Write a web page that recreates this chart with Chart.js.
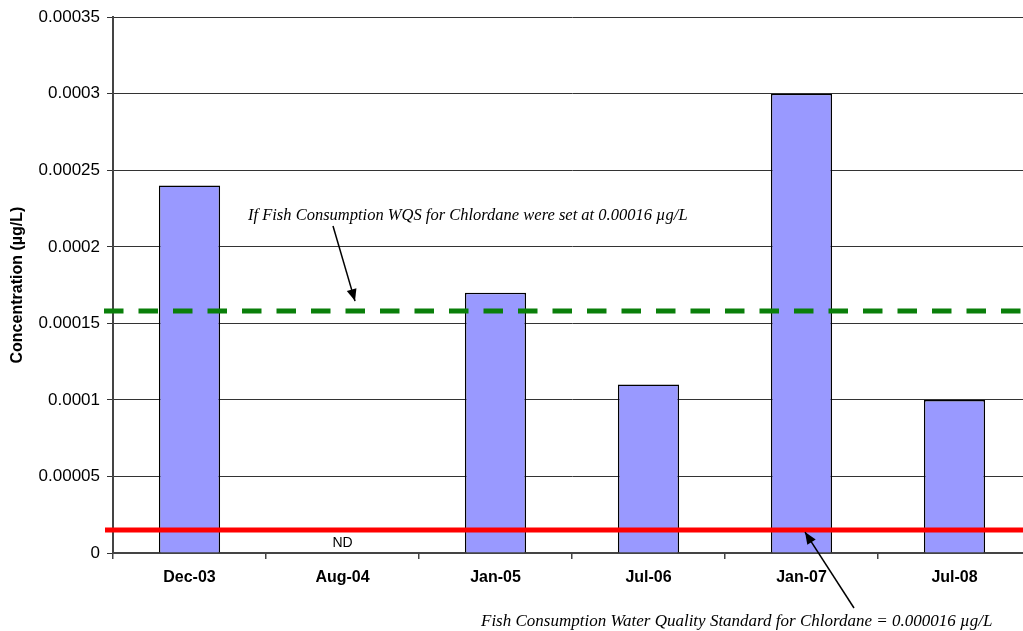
<!DOCTYPE html>
<html>
<head>
<meta charset="utf-8">
<script src="https://cdn.jsdelivr.net/npm/chart.js@4/dist/chart.umd.min.js"></script>
<style>
html,body{margin:0;padding:0;background:#fff;overflow:hidden;}
#wrap{width:1040px;height:631px;}
</style>
</head>
<body>
<div id="wrap"><canvas id="c" width="1040" height="631"></canvas></div>
<script>
const categories = ['Dec-03','Aug-04','Jan-05','Jul-06','Jan-07','Jul-08'];
const concentrations = [0.00024, 0, 0.00017, 0.00011, 0.0003, 0.0001];
const tickValues = [0, 0.00005, 0.0001, 0.00015, 0.0002, 0.00025, 0.0003, 0.00035];
const tickLabels = ['0','0.00005','0.0001','0.00015','0.0002','0.00025','0.0003','0.00035'];
const standardValue = 0.000015;
const hypotheticalValue = 0.000158;
const standardText = 'Fish Consumption Water Quality Standard for Chlordane = 0.000016 \u00b5g/L';
const hypotheticalText = 'If Fish Consumption WQS for Chlordane were set at 0.00016 \u00b5g/L';
const ndText = 'ND';

function arrow(ctx, x1, y1, x2, y2) {
  ctx.save();
  ctx.strokeStyle = '#000';
  ctx.fillStyle = '#000';
  ctx.lineWidth = 1.5;
  ctx.beginPath();
  ctx.moveTo(x1, y1);
  ctx.lineTo(x2, y2);
  ctx.stroke();
  const a = Math.atan2(y2 - y1, x2 - x1);
  const L = 12, W = 5;
  ctx.beginPath();
  ctx.moveTo(x2, y2);
  ctx.lineTo(x2 - L * Math.cos(a) + W * Math.sin(a), y2 - L * Math.sin(a) - W * Math.cos(a));
  ctx.lineTo(x2 - L * Math.cos(a) - W * Math.sin(a), y2 - L * Math.sin(a) + W * Math.cos(a));
  ctx.closePath();
  ctx.fill();
  ctx.restore();
}

const overlay = {
  id: 'overlay',
  afterDatasetsDraw(chart) {
    const ctx = chart.ctx;
    const y = chart.scales.y, x = chart.scales.x;
    const area = chart.chartArea;
    const yStd = y.getPixelForValue(standardValue);
    const yHyp = y.getPixelForValue(hypotheticalValue);
    ctx.save();
    // green dashed line
    ctx.strokeStyle = '#0a7f0a';
    ctx.lineWidth = 5;
    ctx.setLineDash([19.5, 15]);
    ctx.beginPath();
    ctx.moveTo(area.left - 9, yHyp);
    ctx.lineTo(area.right, yHyp);
    ctx.stroke();
    ctx.setLineDash([]);
    // red solid line
    ctx.strokeStyle = '#ff0000';
    ctx.lineWidth = 5;
    ctx.beginPath();
    ctx.moveTo(area.left - 8, yStd);
    ctx.lineTo(area.right, yStd);
    ctx.stroke();
    // ND label
    ctx.fillStyle = '#000';
    ctx.font = '14px "Liberation Sans", Arial, sans-serif';
    ctx.textAlign = 'center';
    ctx.textBaseline = 'middle';
    ctx.fillText(ndText, x.getPixelForValue(1), y.getPixelForValue(0) - 10);
    // annotations
    ctx.textAlign = 'left';
    ctx.textBaseline = 'alphabetic';
    ctx.font = 'italic 16.5px "Liberation Serif", "Times New Roman", serif';
    ctx.fillText(hypotheticalText, 248, 220);
    ctx.font = 'italic 17px "Liberation Serif", "Times New Roman", serif';
    ctx.fillText(standardText, 481, 626);
    ctx.restore();
    arrow(ctx, 333, 226, 355, yHyp - 10);
    arrow(ctx, 854, 608, 805, yStd + 2);
  }
};

new Chart(document.getElementById('c'), {
  type: 'bar',
  data: {
    labels: categories,
    datasets: [{
      data: concentrations,
      backgroundColor: '#9999ff',
      borderColor: '#000',
      borderWidth: 1.5,
      barPercentage: 0.8,
      categoryPercentage: 0.5
    }]
  },
  options: {
    responsive: false,
    animation: false,
    devicePixelRatio: 1,
    layout: { padding: { top: 16, right: 9, left: 0, bottom: 0 } },
    plugins: { legend: { display: false }, tooltip: { enabled: false } },
    scales: {
      x: {
        offset: true,
        grid: { offset: true, drawOnChartArea: false, tickLength: 6, color: '#444', lineWidth: 1.5 },
        border: { color: '#444', width: 2 },
        ticks: { color: '#000', font: { family: '"Liberation Sans", Arial, sans-serif', size: 16, weight: 'bold' }, padding: 9 },
        afterFit(s) { s.height = 78; }
      },
      y: {
        min: 0, max: 0.00035,
        afterBuildTicks(s) { s.ticks = tickValues.map(v => ({ value: v })); },
        grid: { color: '#333', lineWidth: 1, tickLength: 6 },
        border: { color: '#444', width: 2 },
        ticks: {
          color: '#000',
          font: { family: '"Liberation Sans", Arial, sans-serif', size: 17 },
          padding: 7,
          callback(v, i) { return tickLabels[i]; }
        },
        title: {
          display: true,
          text: 'Concentration (\u00b5g/L)',
          color: '#000',
          font: { family: '"Liberation Sans", Arial, sans-serif', size: 16, weight: 'bold' },
          padding: { top: 8, bottom: 0 }
        },
        afterFit(s) { s.width = 113; }
      }
    }
  },
  plugins: [overlay]
});
</script>
</body>
</html>
